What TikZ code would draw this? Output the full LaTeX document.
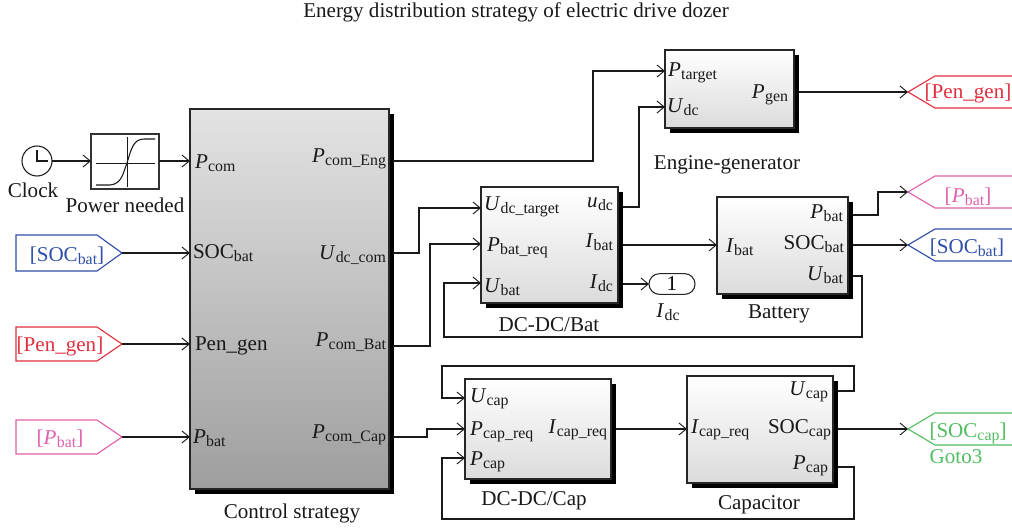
\documentclass[tikz,border=0pt]{standalone}
\usepackage{fontspec}
\setmainfont{Liberation Serif}
\usetikzlibrary{arrows.meta,shadows,fit,shapes.misc}
\definecolor{tagblue}{HTML}{2F4FA8}
\definecolor{tagred}{HTML}{E0303F}
\definecolor{tagpink}{HTML}{E060AC}
\definecolor{taggreen}{HTML}{52BE62}
\definecolor{wire}{HTML}{1A1A1A}
\newcommand{\sbx}[1]{\raisebox{-.4ex}{\fontsize{11.9}{13}\selectfont #1}}
\newcommand{\vr}[2]{\textit{#1}\kern.2pt\sbx{#2}}
\tikzset{
  x=0.75pt,y=-0.75pt,
  lb/.style={inner sep=0pt,outer sep=0pt,font=\fontsize{15.8}{18}\selectfont,text=black!90},
  lw/.style={lb,anchor=base west},
  le/.style={lb,anchor=base east},
  lc/.style={lb,anchor=base},
  wirepath/.style={draw=wire,line width=0.8pt,-{Straight Barb[length=5.5pt,width=9pt,line width=0.7pt]}},
  blockbox/.style={draw=black!85,line width=0.8pt,inner sep=0pt,outer sep=0pt,top color=white,bottom color=black!14,
    general shadow={fill=black,shadow xshift=3.4pt,shadow yshift=-3.4pt}},
  ctrlbox/.style={blockbox,top color=black!11,bottom color=black!38},
  tag/.style={line width=0.85pt,fill=none},
}
\begin{document}
\begin{tikzpicture}
\useasboundingbox (0,0) rectangle (1012,529);
\fill[white] (0,0) rectangle (1012,529);
\node[lc] (title) at (516,17) {Energy distribution strategy of electric drive dozer};

% Blocks
\node[ctrlbox,fit={(190,109)(389,489)}] (ctrl) {};
\node[blockbox,fit={(665,50)(794,128)}] (eng) {};
\node[blockbox,fit={(481,187)(618,303)}] (dcbat) {};
\node[blockbox,fit={(717,197)(848,294)}] (bat) {};
\node[blockbox,fit={(465,379)(611,479)}] (dccap) {};
\node[blockbox,fit={(687,376)(833,483)}] (cap) {};

% Clock and saturation
\node[circle,draw=wire,line width=0.8pt,minimum size=22.5pt,inner sep=0pt] (clock) at (37,161) {};
\draw[wire,line width=0.8pt] (37,150) -- (37,161) -- (48,161);
\node[lc] (clocklabel) at (33,197) {Clock};
\node[draw=black!80,line width=0.9pt,fill=white,inner sep=0pt,fit={(91,134)(159,189)}] (need) {};
\draw[wire,line width=0.7pt] (96,163) -- (155,163) (127,137) -- (127,187);
\draw[wire,line width=0.8pt] (96,185) -- (110,185) .. controls (122,184) and (123,173) .. (127,163) .. controls (131,150) and (133,139) .. (144,139) -- (155,139);
\node[lc] (needlabel) at (125,212) {Power needed};

% Goto/From tags
\draw[tag,tagblue] (16,235) -- (97,235) -- (122,253) -- (97,271) -- (16,271) -- cycle;
\draw[tag,tagred] (16,327) -- (97,327) -- (122,344) -- (97,361) -- (16,361) -- cycle;
\draw[tag,tagpink] (16,420) -- (97,420) -- (122,437) -- (97,454) -- (16,454) -- cycle;
\draw[tag,tagred] (1012,76) -- (935,76) -- (908,92) -- (935,108) -- (1012,108);
\draw[tag,tagpink] (1012,176) -- (935,176) -- (908,192) -- (935,208) -- (1012,208);
\draw[tag,tagblue] (1012,229) -- (935,229) -- (908,245) -- (935,261) -- (1012,261);
\draw[tag,taggreen] (1012,413) -- (935,413) -- (908,429) -- (935,445) -- (1012,445);
\node[lc,text=tagblue] (t1) at (67,261) {[SOC\sbx{bat}]};
\node[lc,text=tagred] (t2) at (60,351) {[Pen\_gen]};
\node[lc,text=tagpink] (t3) at (60,444) {[\vr{P}{bat}]};
\node[lc,text=tagred] (t4) at (968,98) {[Pen\_gen]};
\node[lc,text=tagpink] (t5) at (968,202) {[\vr{P}{bat}]};
\node[lc,text=tagblue] (t6) at (967,253) {[SOC\sbx{bat}]};
\node[lc,text=taggreen] (t7) at (968,437) {[SOC\sbx{cap}]};
\node[lc,text=taggreen] (t8) at (956,463) {Goto3};

% Output pill
\node[rounded rectangle,draw=black!85,line width=0.8pt,fill=white,minimum width=34.5pt,minimum height=15.5pt,inner sep=0pt,font=\fontsize{15.8}{18}\selectfont] (pill) at (672,284) {1};
\node[lc] (pilllabel) at (668,317) {\vr{I}{dc}};

% Ports
\coordinate (clockout) at (52,161);
\coordinate (needin) at (91,161);
\coordinate (needout) at (159,161);
\coordinate (cpcom) at (190,161);
\coordinate (csoc) at (190,253);
\coordinate (cpen) at (190,344);
\coordinate (cpbat) at (190,437);
\coordinate (fsoc) at (122,253);
\coordinate (fpen) at (122,344);
\coordinate (fpbat) at (122,437);
\coordinate (ceng) at (393,161);
\coordinate (cudc) at (393,253);
\coordinate (cbat) at (393,346);
\coordinate (ccap) at (393,437);
\coordinate (eptarget) at (665,71);
\coordinate (eudc) at (665,107);
\coordinate (epgen) at (799,92);
\coordinate (bt) at (481,208);
\coordinate (bp) at (481,244);
\coordinate (bu) at (481,283);
\coordinate (boutu) at (623,207);
\coordinate (bouti) at (623,245);
\coordinate (boutd) at (623,284);
\coordinate (pillin) at (649,284);
\coordinate (batin) at (717,245);
\coordinate (batp) at (853,215);
\coordinate (bats) at (853,245);
\coordinate (batu) at (853,276);
\coordinate (tpen) at (908,92);
\coordinate (tpbat) at (908,192);
\coordinate (tsoc) at (908,245);
\coordinate (tsocc) at (908,429);
\coordinate (du) at (465,398);
\coordinate (dp) at (465,429);
\coordinate (dc) at (465,458);
\coordinate (dout) at (616,429);
\coordinate (capin) at (687,429);
\coordinate (capu) at (838,391);
\coordinate (caps) at (838,429);
\coordinate (capp) at (838,467);

% Connectors
\draw[wirepath] (clockout) -- (needin);
\draw[wirepath] (needout) -- (cpcom);
\draw[wirepath] (fsoc) -- (csoc);
\draw[wirepath] (fpen) -- (cpen);
\draw[wirepath] (fpbat) -- (cpbat);
\draw[wirepath] (ceng) -- ++(200,0) |- (eptarget);
\draw[wirepath] (cudc) -- ++(26,0) |- (bt);
\draw[wirepath] (cbat) -- ++(37,0) |- (bp);
\draw[wirepath] (ccap) -- ++(34,0) |- (dp);
\draw[wirepath] (boutu) -- ++(16,0) |- (eudc);
\draw[wirepath] (bouti) -- (batin);
\draw[wirepath] (boutd) -- (pillin);
\draw[wirepath] (epgen) -- (tpen);
\draw[wirepath] (batp) -- ++(25,0) |- (tpbat);
\draw[wirepath] (bats) -- (tsoc);
\draw[wirepath] (batu) -- ++(9,0) -- ++(0,61) -- ++(-418,0) |- (bu);
\draw[wirepath] (dout) -- (capin);
\draw[wirepath] (caps) -- (tsocc);
\draw[wirepath] (capu) -- ++(16,0) -- ++(0,-25) -- ++(-412,0) |- (du);
\draw[wirepath] (capp) -- ++(16,0) -- ++(0,52) -- ++(-412,0) |- (dc);

% Control strategy labels
\node[lw] (c1) at (195,168) {\vr{P}{com}};
\node[lw] (c2) at (193,258) {SOC\sbx{bat}};
\node[lw] (c3) at (195,350) {Pen\_gen};
\node[lw] (c4) at (193,443) {\vr{P}{bat}};
\node[le] (c5) at (386,162) {\vr{P}{com\_Eng}};
\node[le] (c6) at (386,259) {\vr{U}{dc\_com}};
\node[le] (c7) at (386,346) {\vr{P}{com\_Bat}};
\node[le] (c8) at (386,438) {\vr{P}{com\_Cap}};
\node[lc] (c9) at (292,518) {Control strategy};

% Engine labels
\node[lw] (e1) at (668,76) {\vr{P}{target}};
\node[lw] (e2) at (667,112) {\vr{U}{dc}};
\node[le] (e3) at (788,98) {\vr{P}{gen}};
\node[lc] (e4) at (727,169) {Engine-generator};

% DC-DC/Bat labels
\node[lw] (b1) at (484,210) {\vr{U}{dc\_target}};
\node[lw] (b2) at (487,251) {\vr{P}{bat\_req}};
\node[lw] (b3) at (484,292) {\vr{U}{bat}};
\node[le] (b4) at (613,207) {\vr{u}{dc}};
\node[le] (b5) at (613,247) {\vr{I}{bat}};
\node[le] (b6) at (613,288) {\vr{I}{dc}};
\node[lc] (b7) at (549,331) {DC-DC/Bat};

% Battery labels
\node[lw] (a1) at (726,252) {\vr{I}{bat}};
\node[le] (a2) at (843,218) {\vr{P}{bat}};
\node[le] (a3) at (844,249) {SOC\sbx{bat}};
\node[le] (a4) at (843,280) {\vr{U}{bat}};
\node[lc] (a5) at (779,318) {Battery};

% DC-DC/Cap labels
\node[lw] (d1) at (470,402) {\vr{U}{cap}};
\node[lw] (d2) at (470,435) {\vr{P}{cap\_req}};
\node[lw] (d3) at (470,465) {\vr{P}{cap}};
\node[le] (d4) at (607,433) {\vr{I}{cap\_req}};
\node[lc] (d5) at (534,505) {DC-DC/Cap};

% Capacitor labels
\node[lw] (k1) at (691,433) {\vr{I}{cap\_req}};
\node[le] (k2) at (828,395) {\vr{U}{cap}};
\node[le] (k3) at (831,433) {SOC\sbx{cap}};
\node[le] (k4) at (828,469) {\vr{P}{cap}};
\node[lc] (k5) at (759,509) {Capacitor};
\end{tikzpicture}
\end{document}
